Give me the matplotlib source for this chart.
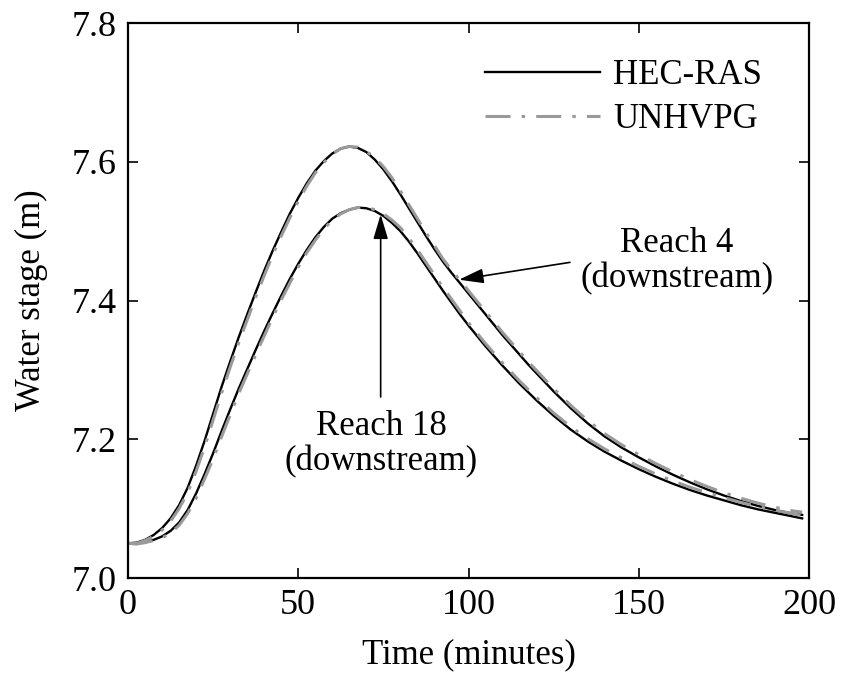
import numpy as np
import matplotlib
matplotlib.use("Agg")
from matplotlib import pyplot as plt

plt.rcParams['font.family'] = ['Liberation Serif', 'DejaVu Serif']
plt.rcParams['lines.scale_dashes'] = False

# time in minutes
t = [0, 2.5, 5, 7.5, 10, 12.5, 15, 17.5, 20, 22.5, 25, 27.5, 30, 32.5, 35, 37.5,
     40, 42.5, 45, 47.5, 50, 52.5, 55, 57.5, 60, 62.5, 65, 67.5, 70, 72.5, 75,
     77.5, 80, 82.5, 85, 87.5, 90, 92.5, 95, 97.5, 100, 102.5, 105, 107.5, 110,
     112.5, 115, 117.5, 120, 122.5, 125, 127.5, 130, 135, 140, 145, 150, 155,
     160, 165, 170, 175, 180, 185, 190, 195, 198]

# reach 4 (downstream)
r4_hec = [7.050, 7.051, 7.055, 7.062, 7.072, 7.086, 7.105, 7.130, 7.162, 7.198,
          7.237, 7.276, 7.312, 7.347, 7.380, 7.412, 7.443, 7.472, 7.499, 7.525,
          7.548, 7.569, 7.587, 7.601, 7.612, 7.619, 7.622, 7.620, 7.614, 7.603,
          7.589, 7.572, 7.553, 7.533, 7.513, 7.493, 7.474, 7.456, 7.440, 7.425,
          7.410, 7.395, 7.380, 7.365, 7.350, 7.336, 7.322, 7.308, 7.295, 7.282,
          7.269, 7.257, 7.245, 7.223, 7.204, 7.188, 7.174, 7.161, 7.149, 7.138,
          7.128, 7.119, 7.111, 7.104, 7.098, 7.093, 7.091]
r4_unh = [7.050, 7.050, 7.054, 7.060, 7.069, 7.082, 7.100, 7.123, 7.154, 7.189,
          7.228, 7.267, 7.304, 7.339, 7.372, 7.405, 7.436, 7.466, 7.493, 7.519,
          7.543, 7.565, 7.584, 7.599, 7.611, 7.619, 7.622, 7.621, 7.615, 7.606,
          7.593, 7.577, 7.558, 7.538, 7.518, 7.498, 7.479, 7.460, 7.444, 7.429,
          7.414, 7.399, 7.384, 7.369, 7.354, 7.340, 7.326, 7.312, 7.299, 7.286,
          7.273, 7.261, 7.249, 7.227, 7.208, 7.192, 7.178, 7.165, 7.153, 7.142,
          7.132, 7.123, 7.115, 7.108, 7.102, 7.097, 7.095]

# reach 18 (downstream)
r18_hec = [7.050, 7.050, 7.052, 7.055, 7.060, 7.068, 7.080, 7.098, 7.122, 7.150,
           7.180, 7.212, 7.243, 7.273, 7.301, 7.329, 7.356, 7.382, 7.407, 7.431,
           7.453, 7.473, 7.491, 7.506, 7.518, 7.526, 7.531, 7.534, 7.533, 7.529,
           7.522, 7.512, 7.500, 7.485, 7.468, 7.450, 7.432, 7.414, 7.397, 7.380,
           7.364, 7.349, 7.334, 7.320, 7.306, 7.293, 7.280, 7.268, 7.256, 7.245,
           7.234, 7.224, 7.214, 7.197, 7.182, 7.169, 7.157, 7.146, 7.136, 7.127,
           7.119, 7.112, 7.105, 7.099, 7.094, 7.089, 7.086]
r18_unh = [7.050, 7.049, 7.051, 7.054, 7.058, 7.065, 7.076, 7.093, 7.115, 7.143,
           7.172, 7.204, 7.235, 7.266, 7.294, 7.322, 7.349, 7.376, 7.401, 7.425,
           7.448, 7.469, 7.487, 7.503, 7.516, 7.525, 7.531, 7.534, 7.534, 7.531,
           7.525, 7.516, 7.505, 7.490, 7.473, 7.455, 7.437, 7.419, 7.402, 7.385,
           7.368, 7.353, 7.338, 7.324, 7.310, 7.297, 7.284, 7.272, 7.260, 7.249,
           7.238, 7.228, 7.218, 7.201, 7.186, 7.173, 7.161, 7.150, 7.140, 7.131,
           7.123, 7.116, 7.109, 7.103, 7.098, 7.093, 7.090]

fs = 25
grey = '#9a9a9a'
dashdot = (0, (18, 8, 2.5, 8))

fig = plt.figure(figsize=(8.44, 6.81), dpi=100)
ax = fig.add_axes([0.1517, 0.1512, 0.9585 - 0.1517, 0.9662 - 0.1512])

ax.plot(t, r4_hec, color='k', lw=1.7, label='HEC-RAS', solid_joinstyle='round')
ax.plot(t, r18_hec, color='k', lw=1.7, solid_joinstyle='round')
ax.plot(t, r4_unh, color=grey, lw=2.2, linestyle=dashdot, label='UNHVPG')
ax.plot(t, r18_unh, color=grey, lw=2.2, linestyle=dashdot)

ax.set_xlim(0, 200)
ax.set_ylim(7.0, 7.8)
ax.set_xticks([0, 50, 100, 150, 200])
ax.set_yticks([7.0, 7.2, 7.4, 7.6, 7.8])
ax.set_yticklabels(['7.0', '7.2', '7.4', '7.6', '7.8'])
ax.tick_params(direction='in', length=7, width=1.2, top=True, right=True,
               labelsize=26, pad=8)
for s in ax.spines.values():
    s.set_linewidth(1.6)

ax.set_xlabel('Time (minutes)', fontsize=fs, labelpad=12)
ax.set_ylabel('Water stage (m)', fontsize=fs, labelpad=17)

ax.legend(loc='upper right', bbox_to_anchor=(0.985, 1.0), frameon=False,
          fontsize=fs, handlelength=3.3, handletextpad=0.4, labelspacing=0.3,
          borderaxespad=0.65)

# labels for each reach
head = '-|>,head_length=1.5,head_width=0.45'
ax.annotate('', xy=(97.2, 7.430), xytext=(129.8, 7.455),
            arrowprops=dict(arrowstyle=head, color='k', lw=1.2,
                            shrinkA=0, shrinkB=0))
ax.text(161.2, 7.457, 'Reach 4\n(downstream)', fontsize=fs, ha='center',
        va='center', multialignment='center', linespacing=1.1)

ax.annotate('', xy=(74.2, 7.524), xytext=(74.2, 7.261),
            arrowprops=dict(arrowstyle=head, color='k', lw=1.2,
                            shrinkA=0, shrinkB=0))
ax.text(74.3, 7.193, 'Reach 18\n(downstream)', fontsize=fs, ha='center',
        va='center', multialignment='center', linespacing=1.1)

fig.savefig('out.png', dpi=100)
